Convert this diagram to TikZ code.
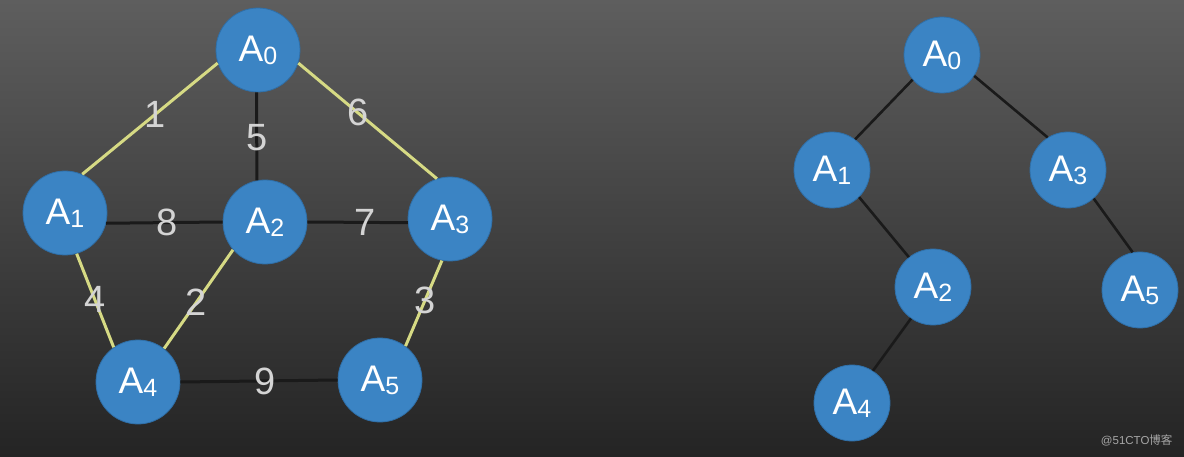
\documentclass[tikz,border=0pt]{standalone}
\usepackage{fontspec}
\setmainfont{Liberation Sans}
\newfontfamily\cjkfont{Noto Sans CJK SC}
\definecolor{nodeblue}{HTML}{3B84C4}
\definecolor{nodeedge}{HTML}{2F6FA8}
\definecolor{mstedge}{HTML}{D6DA84}
\definecolor{darkedge}{HTML}{1A1A1A}
\definecolor{lbl}{HTML}{D4D4D4}
\definecolor{bgtop}{HTML}{5E5E5E}
\definecolor{bgbot}{HTML}{242424}
\newcommand{\vx}[1]{A\raisebox{-3pt}{\fontsize{25}{25}\selectfont #1}}
\begin{document}
\begin{tikzpicture}[x=1pt,y=-1pt,
  vbig/.style={circle,fill=nodeblue,draw=nodeedge,line width=0.8pt,minimum size=84pt,inner sep=0pt,text=white,font=\fontsize{37}{40}\selectfont},
  vsmall/.style={vbig,minimum size=76pt},
  yel/.style={draw=mstedge,line width=3pt},
  blk/.style={draw=darkedge,line width=3pt},
  tre/.style={draw=darkedge,line width=2.6pt},
  wt/.style={text=lbl,font=\fontsize{38}{40}\selectfont,inner sep=0pt}]
\useasboundingbox (0,0) rectangle (1184,457);
\shade[top color=bgtop,bottom color=bgbot] (0,0) rectangle (1184,457);
% left graph
\node[vbig] (a0) at (258,50) {\vx{0}};
\node[vbig] (a1) at (65,213) {\vx{1}};
\node[vbig] (a2) at (265,222) {\vx{2}};
\node[vbig] (a3) at (450,219) {\vx{3}};
\node[vbig] (a4) at (138,382) {\vx{4}};
\node[vbig] (a5) at (380,380) {\vx{5}};
\path[yel] (a0.198) -- node[wt,pos=0.46] (w1) {1} (a1.66);
\path[blk] (a0.268) -- node[wt,pos=0.51] (w5) {5} (a2.101);
\path[yel] (a0.342) -- node[wt,pos=0.43] (w6) {6} (a3.108);
\path[blk] (a1.346) -- node[wt,pos=0.52] (w8) {8} (a2.180);
\path[blk] (a2.0) -- node[wt,pos=0.57] (w7) {7} (a3.185);
\path[yel] (a1.286) -- node[wt,pos=0.49] (w4) {4} (a4.125);
\path[yel] (a2.221) -- node[wt,pos=0.53] (w2) {2} (a4.52);
\path[yel] (a3.259) -- node[wt,pos=0.46] (w3) {3} (a5.53);
\path[blk] (a4.0) -- node[wt,pos=0.54] (w9) {9} (a5.180);
% right tree
\node[vsmall] (t0) at (942,55) {\vx{0}};
\node[vsmall] (t1) at (832,170) {\vx{1}};
\node[vsmall] (t3) at (1068,170) {\vx{3}};
\node[vsmall] (t2) at (933,287) {\vx{2}};
\node[vsmall] (t5) at (1140,290) {\vx{5}};
\node[vsmall] (t4) at (852,403) {\vx{4}};
\path[tre] (t0.220) -- (t1.53);
\path[tre] (t0.327) -- (t3.122);
\path[tre] (t1.315) -- (t2.129);
\path[tre] (t2.235) -- (t4.57);
\path[tre] (t3.312) -- (t5.101);
% watermark
\node[text=gray!70,font=\fontsize{11.5}{12}\selectfont,anchor=east] (wm) at (1176,440) {@51CTO\cjkfont 博客};
\end{tikzpicture}
\end{document}
